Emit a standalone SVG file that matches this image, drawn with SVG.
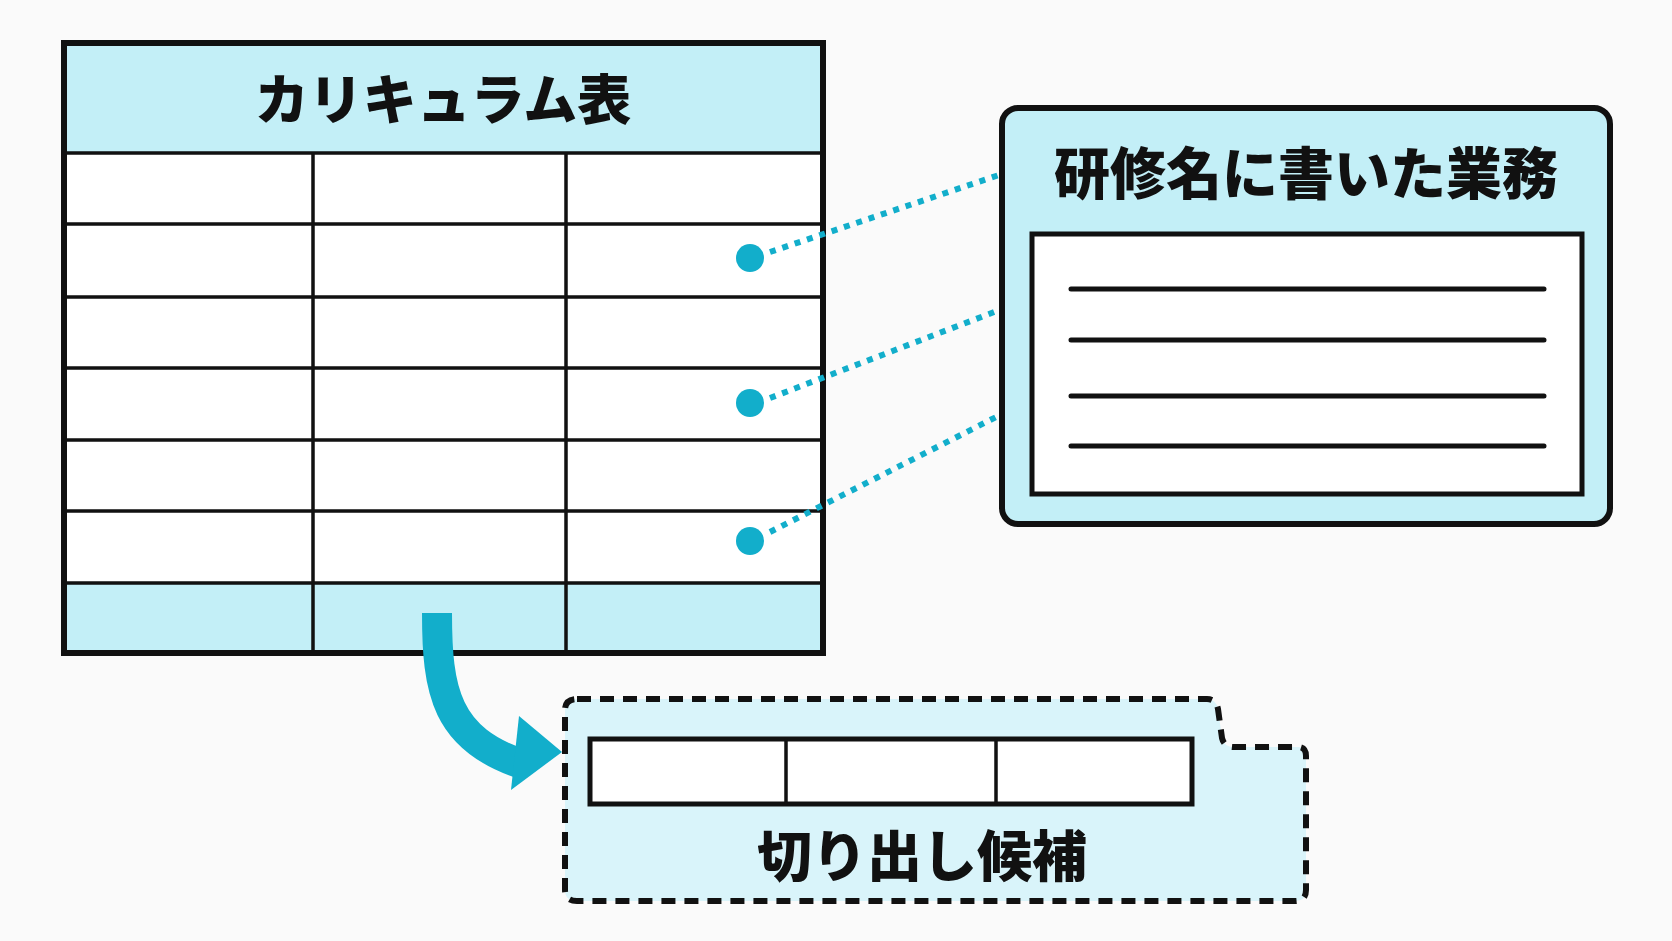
<svg xmlns="http://www.w3.org/2000/svg" width="1672" height="941" viewBox="0 0 1672 941">
<style>
.t{font-family:"Noto Sans CJK JP","Noto Sans CJK SC",sans-serif;font-weight:900;fill:#111;text-anchor:middle}
.ln{stroke:#111;stroke-width:3.5;fill:none}
.dot{fill:#12aecb}
.dl{stroke:#12aecb;stroke-width:6;stroke-dasharray:6 7;fill:none}
</style>
<rect width="1672" height="941" fill="#fafafa"/>
<g id="curriculum">
<rect x="64" y="43" width="759" height="610" fill="#fff"/>
<rect x="64" y="43" width="759" height="110" fill="#c3eff7"/>
<rect x="64" y="583" width="759" height="70" fill="#c3eff7"/>
<g class="ln">
<path d="M64 153H823M64 224H823M64 297H823M64 368H823M64 440H823M64 511H823M64 583H823M313 153V653M566 153V653"/>
</g>
<rect x="64" y="43" width="759" height="610" fill="none" stroke="#111" stroke-width="6"/>
<text class="t" x="443" y="120" font-size="54">カリキュラム表</text>
</g>
<g id="dots">
<circle class="dot" cx="750" cy="258" r="14"/>
<circle class="dot" cx="750" cy="403" r="14"/>
<circle class="dot" cx="750" cy="541" r="14"/>
</g>
<g id="connectors">
<path class="dl" d="M770 252L1002 174M770 398L1002 309M770 532L1002 414"/>
<path d="M437 613C437 690 445 740 525 765" fill="none" stroke="#12aecb" stroke-width="30"/>
<polygon points="519,716 511,790 562,752" fill="#12aecb"/>
</g>
<g id="work">
<rect x="1002" y="108" width="608" height="416" rx="16" fill="#c3eff7" stroke="#111" stroke-width="6"/>
<text class="t" x="1306" y="194" font-size="56">研修名に書いた業務</text>
<rect x="1032" y="234" width="550" height="260" fill="#fff" stroke="#111" stroke-width="5"/>
<path d="M1071 289H1544M1071 340H1544M1071 396H1544M1071 446H1544" stroke="#111" stroke-width="5" stroke-linecap="round"/>
</g>
<g id="candidate">
<path d="M577 699H1207Q1216 699 1218 709L1222 738Q1224 747 1234 747H1298Q1306 747 1306 756V890Q1306 901 1295 901H577Q565 901 565 890V710Q565 699 577 699Z" fill="#d9f4fa" stroke="#111" stroke-width="6" stroke-dasharray="14 9"/>
<rect x="590" y="739" width="602" height="65" fill="#fff" stroke="#111" stroke-width="5"/>
<path class="ln" d="M786 739V804M996 739V804" stroke-width="4"/>
<text class="t" x="922" y="876" font-size="55">切り出し候補</text>
</g>
</svg>
